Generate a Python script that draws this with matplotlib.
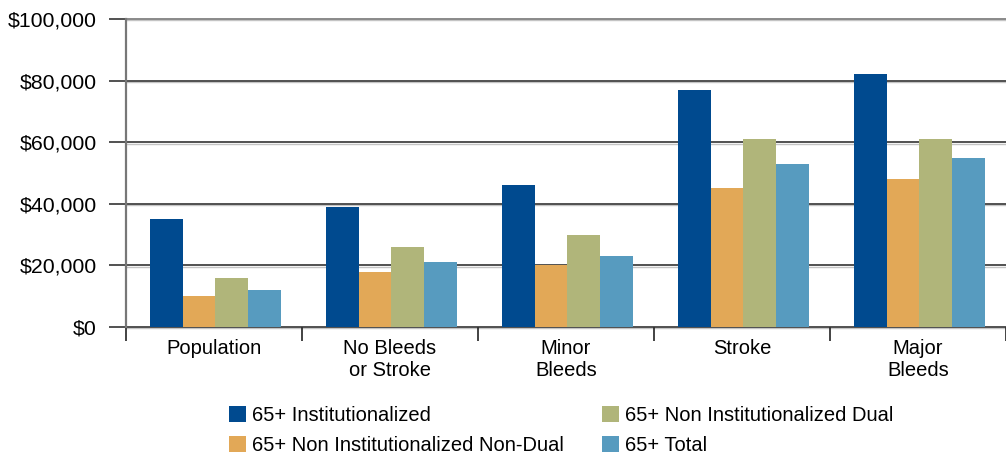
import matplotlib
matplotlib.use("Agg")
import matplotlib.pyplot as plt
import matplotlib.transforms as mtransforms
from matplotlib.patches import Patch
import numpy as np

plt.rcParams['font.family'] = ['Liberation Sans', 'DejaVu Sans']

categories = ["Population", "No Bleeds\nor Stroke", "Minor\nBleeds", "Stroke", "Major\nBleeds"]
series_names = ["65+ Institutionalized", "65+ Non Institutionalized Non-Dual",
                "65+ Non Institutionalized Dual", "65+ Total"]
institutionalized = [35000, 39000, 46000, 77000, 82000]
non_inst_non_dual = [10000, 18000, 20000, 45000, 48000]
non_inst_dual = [16000, 26000, 30000, 61000, 61000]
total_65 = [12000, 21000, 23000, 53000, 55000]
y_ticks = [0, 20000, 40000, 60000, 80000, 100000]
y_tick_labels = ["$0", "$20,000", "$40,000", "$60,000", "$80,000", "$100,000"]

colors = ["#004A8F", "#E2A857", "#B0B57A", "#579BBF"]
series = [institutionalized, non_inst_non_dual, non_inst_dual, total_65]

W, H = 1006, 455
fig = plt.figure(figsize=(W / 100, H / 100), dpi=100)
ax = fig.add_axes([126 / W, (H - 327) / H, (1006 - 126) / W, (327 - 19) / H])

FS = 14.5
bar_w = 0.186
centers = np.arange(len(categories)) + 0.5
for i, (vals, col) in enumerate(zip(series, colors)):
    offs = (i - 1.5) * bar_w + 0.008
    ax.bar(centers + offs, vals, width=bar_w, color=col, zorder=3, linewidth=0)

ax.set_xlim(0, len(categories))
ax.set_ylim(0, 100000)

# gridlines: dark line with a light shadow just below
shadow = mtransforms.offset_copy(ax.get_yaxis_transform(), fig=fig, x=0, y=-1.3, units='dots')
for v in y_ticks:
    c = '#777777' if v == 100000 else '#333333'
    ax.plot([0, 1], [v, v], transform=shadow, color='#c4c4c4', lw=1.0, zorder=1, clip_on=False)
    ax.plot([0, 1], [v, v], transform=ax.get_yaxis_transform(), color=c, lw=1.2, zorder=2, clip_on=False)

ax.set_yticks(y_ticks)
ax.set_yticklabels(y_tick_labels, fontsize=15.3)
ax.tick_params(axis='y', length=12, width=1.2, color='#333333', pad=9, direction='out')

ax.set_xticks(np.arange(len(categories) + 1))
ax.set_xticklabels([])
ax.set_xticks(centers, minor=True)
ax.set_xticklabels(categories, minor=True, fontsize=FS, linespacing=1.15)
ax.tick_params(axis='x', which='major', length=10, width=1.2, color='#222222', direction='out')
ax.tick_params(axis='x', which='minor', length=0, pad=9)

for s in ['top', 'right', 'bottom']:
    ax.spines[s].set_visible(False)
ax.spines['left'].set_color('#777777')
ax.spines['left'].set_linewidth(1.6)

handles = [Patch(facecolor=c, edgecolor='none') for c in colors]
leg_kw = dict(frameon=False, fontsize=FS, borderpad=0, borderaxespad=0,
              handlelength=0.85, handleheight=0.8, handletextpad=0.3, labelspacing=0.55,
              loc='upper left')
fig.legend([handles[0], handles[1]], [series_names[0], series_names[1]],
           bbox_to_anchor=(229 / W, (H - 406) / H), **leg_kw)
fig.legend([handles[2], handles[3]], [series_names[2], series_names[3]],
           bbox_to_anchor=(602 / W, (H - 406) / H), **leg_kw)

fig.savefig("out.png", dpi=100)
